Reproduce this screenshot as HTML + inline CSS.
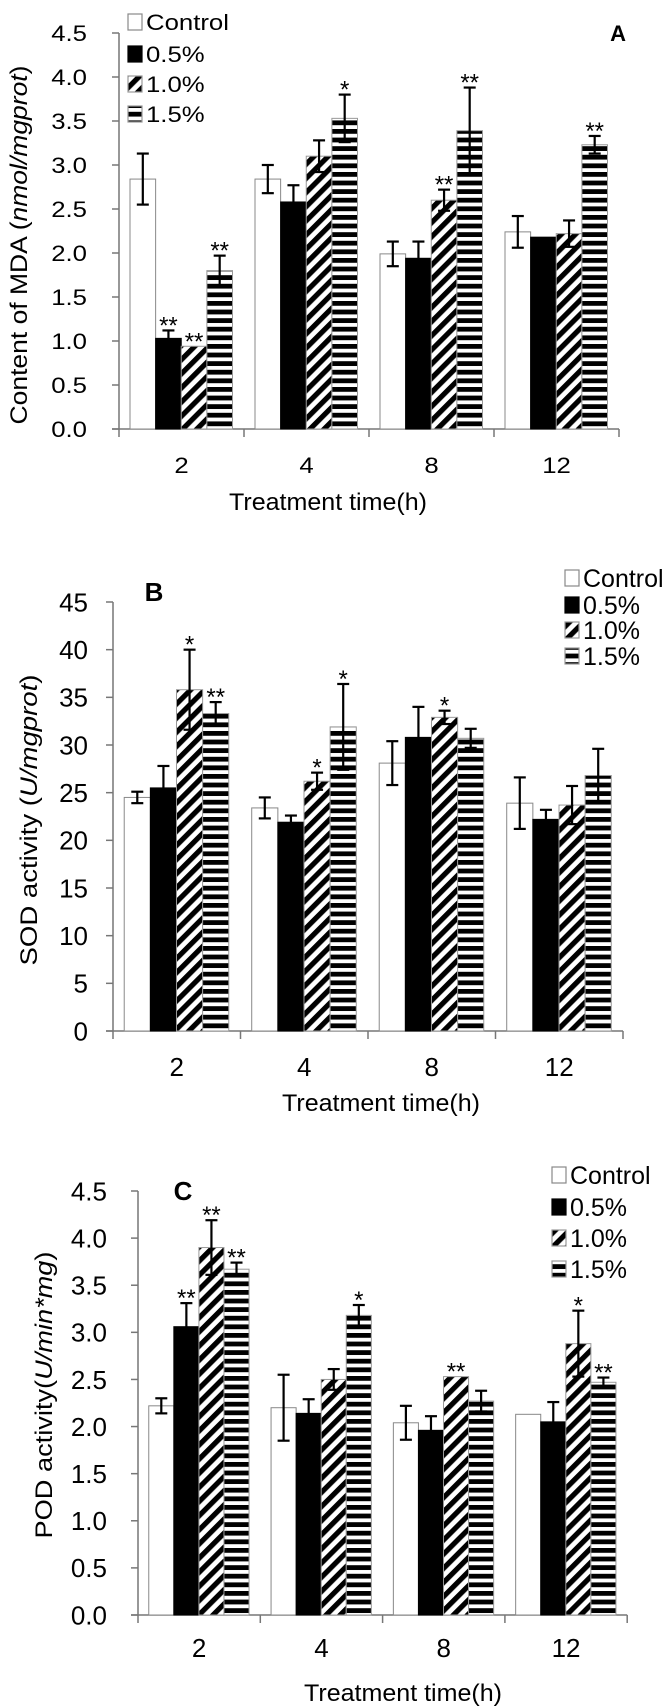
<!DOCTYPE html>
<html><head><meta charset="utf-8">
<style>
html,body{margin:0;padding:0;background:#fff;}
svg{display:block;font-family:"Liberation Sans",Arial,sans-serif;}
</style></head>
<body>
<svg id="chart" width="665" height="1708" viewBox="0 0 665 1708" xmlns="http://www.w3.org/2000/svg">
<defs>
<pattern id="diag" patternUnits="userSpaceOnUse" width="10" height="10" patternTransform="rotate(45)">
<rect width="10" height="10" fill="#fff"/><rect width="5.2" height="10" fill="#000"/>
</pattern>
<pattern id="horiz" patternUnits="userSpaceOnUse" width="8" height="8.6">
<rect width="8" height="8.6" fill="#fff"/><rect width="8" height="4.8" fill="#000"/>
</pattern>
</defs>
</svg>
<script>
// ---- shared ----
const categories = ["2","4","8","12"];
const seriesNames = ["Control","0.5%","1.0%","1.5%"];

// ---- Panel A: MDA ----
const mdaControl = [2.84, 2.84, 1.99, 2.24];
const mdaP05 = [1.03, 2.58, 1.94, 2.18];
const mdaP10 = [0.94, 3.10, 2.60, 2.22];
const mdaP15 = [1.80, 3.53, 3.39, 3.23];
const mdaErrControl = [0.29, 0.16, 0.14, 0.18];
const mdaErrP05 = [0.09, 0.19, 0.19, 0.0];
const mdaErrP10 = [0.0, 0.18, 0.12, 0.15];
const mdaErrP15 = [0.17, 0.27, 0.49, 0.10];
const mdaStarsControl = ["","","",""];
const mdaStarsP05 = ["**","","",""];
const mdaStarsP10 = ["**","","**",""];
const mdaStarsP15 = ["**","*","**","**"];
const mdaTicks = ["0.0","0.5","1.0","1.5","2.0","2.5","3.0","3.5","4.0","4.5"];

// ---- Panel B: SOD ----
const sodControl = [24.5, 23.4, 28.1, 23.9];
const sodP05 = [25.5, 21.9, 30.8, 22.2];
const sodP10 = [35.8, 26.2, 32.9, 23.7];
const sodP15 = [33.3, 31.9, 30.7, 26.8];
const sodErrControl = [0.6, 1.1, 2.3, 2.7];
const sodErrP05 = [2.3, 0.7, 3.2, 1.0];
const sodErrP10 = [4.2, 0.9, 0.7, 2.0];
const sodErrP15 = [1.2, 4.5, 1.0, 2.8];
const sodStarsControl = ["","","",""];
const sodStarsP05 = ["","","",""];
const sodStarsP10 = ["*","*","*",""];
const sodStarsP15 = ["**","*","",""];
const sodTicks = ["0","5","10","15","20","25","30","35","40","45"];

// ---- Panel C: POD ----
const podControl = [2.22, 2.20, 2.04, 2.13];
const podP05 = [3.06, 2.14, 1.96, 2.05];
const podP10 = [3.90, 2.50, 2.53, 2.88];
const podP15 = [3.67, 3.18, 2.27, 2.47];
const podErrControl = [0.08, 0.35, 0.18, 0.0];
const podErrP05 = [0.25, 0.15, 0.15, 0.21];
const podErrP10 = [0.29, 0.11, 0.0, 0.35];
const podErrP15 = [0.07, 0.11, 0.11, 0.05];
const podStarsControl = ["","","",""];
const podStarsP05 = ["**","","",""];
const podStarsP10 = ["**","","**","*"];
const podStarsP15 = ["**","*","","**"];
const podTicks = ["0.0","0.5","1.0","1.5","2.0","2.5","3.0","3.5","4.0","4.5"];

const svg = document.getElementById('chart');
const NS = 'http://www.w3.org/2000/svg';
function el(tag, attrs, parent){
  const e = document.createElementNS(NS, tag);
  for (const k in attrs) e.setAttribute(k, attrs[k]);
  (parent||svg).appendChild(e);
  return e;
}
function txt(parent, x, y, s, size, anchor, sx, weight){
  const t = el('text', {transform:`translate(${x},${y}) scale(${sx},1)`, 'font-size':size, 'text-anchor':anchor, fill:'#000'}, parent);
  if (weight) t.setAttribute('font-weight', weight);
  t.textContent = s;
  return t;
}
const fills = ['#fff','#000','url(#diag)','url(#horiz)'];
const strokes = ['#888','#000','#999','#999'];

function panel(P){
  const g = el('g', {});
  
  
  const yScale = v => P.y0 - (v / P.max) * (P.y0 - P.yTop);
  const xGroup = i => P.axisX + i * P.gw;
  const bw = P.gw * 0.205, off = P.gw * 0.088;
  const ya = el('line', {x1:P.axisX, y1:P.yTop, x2:P.axisX, y2:P.y0, stroke:'#777', 'stroke-width':1.5}, g);
  
  
  P.ticks.forEach((t, i) => {
    const v = i * P.max / (P.ticks.length - 1);
    const y = yScale(v);
    el('line', {x1:P.axisX-7, y1:y, x2:P.axisX, y2:y, stroke:'#777', 'stroke-width':1.5}, g);
    const tl = txt(g, P.labelRight, y + P.fs*0.36, t, P.fs, 'end', P.sx);
    
    
  });
  const xEnd = xGroup(categories.length);
  const xa = el('line', {x1:P.axisX-7, y1:P.y0, x2:xEnd, y2:P.y0, stroke:'#777', 'stroke-width':1.5}, g);
  
  
  for (let i = 0; i <= categories.length; i++) {
    el('line', {x1:xGroup(i), y1:P.y0, x2:xGroup(i), y2:P.y0+8, stroke:'#777', 'stroke-width':1.5}, g);
  }
  categories.forEach((c, i) => {
    const cl = txt(g, xGroup(i) + P.gw/2, P.catY, c, P.fs, 'middle', P.sx);
    
    
  });
  P.series.forEach((vals, s) => {
    vals.forEach((v, i) => {
      const x = xGroup(i) + off + s * bw;
      const y = yScale(v);
      const r = el('rect', {x:x, y:y, width:bw, height:P.y0 - y, fill:fills[s], stroke:strokes[s], 'stroke-width':1}, g);
      
      
      const e = P.errs[s][i];
      const cx = x + bw/2;
      if (e > 0) {
        const yt = yScale(v + e), yb = yScale(Math.max(0, v - e));
        el('line', {x1:cx, y1:yt, x2:cx, y2:yb, stroke:'#000', 'stroke-width':2.2}, g);
        el('line', {x1:cx-6, y1:yt, x2:cx+6, y2:yt, stroke:'#000', 'stroke-width':2.2}, g);
        el('line', {x1:cx-6, y1:yb, x2:cx+6, y2:yb, stroke:'#000', 'stroke-width':2.2}, g);
      }
      const st = P.stars[s][i];
      if (st) {
        const sl = txt(g, cx, yScale(v + e) + 3, st, 24, 'middle', 1);
        
        
      }
    });
  });
  seriesNames.forEach((n, s) => {
    const ly = P.legY[s];
    const sw = el('rect', {x:P.legX, y:ly-8, width:14, height:16, fill:fills[s], stroke:strokes[s], 'stroke-width':1.2}, g);
    
    
    const lt = txt(g, P.legX + 18, ly + P.legFs*0.36, n, P.legFs, 'start', P.sx);
    
    
  });
  const pl = txt(g, P.letterX, P.letterY, P.letter, P.fs, 'middle', 1, 'bold');
  
  
  const xt = el('text', {x:P.xTitleX, y:P.xTitleY, 'font-size':24, 'text-anchor':'middle', textLength:198, lengthAdjust:'spacingAndGlyphs'}, g);
  xt.textContent = 'Treatment time(h)';
  
  
  const yt = el('text', {transform:`translate(${P.yTitleX},${P.yTitleY}) rotate(-90)`, 'font-size':24, 'text-anchor':'middle', textLength:P.yTitleLen, lengthAdjust:'spacingAndGlyphs'}, g);
  P.yTitle.forEach(part => {
    const ts = el('tspan', {}, yt);
    if (part[1]) ts.setAttribute('font-style', 'italic');
    ts.textContent = part[0];
  });
  
  
}

panel({name:'mda-chart', axisX:119, gw:125, y0:429, yTop:33, max:4.5, ticks:mdaTicks, labelRight:87, fs:22, sx:1.17,
  catY:473, series:[mdaControl,mdaP05,mdaP10,mdaP15], errs:[mdaErrControl,mdaErrP05,mdaErrP10,mdaErrP15],
  stars:[mdaStarsControl,mdaStarsP05,mdaStarsP10,mdaStarsP15], legX:128, legY:[22,54,84,114], legFs:22,
  letter:'A', letterX:618, letterY:41, xTitleX:328, xTitleY:510, yTitleX:27, yTitleY:245, yTitleLen:359,
  yTitle:[['Content of MDA (',0],['nmol/mgprot',1],[')',0]]});

panel({name:'sod-chart', axisX:113, gw:127.5, y0:1031, yTop:602, max:45, ticks:sodTicks, labelRight:88, fs:26, sx:1,
  catY:1076, series:[sodControl,sodP05,sodP10,sodP15], errs:[sodErrControl,sodErrP05,sodErrP10,sodErrP15],
  stars:[sodStarsControl,sodStarsP05,sodStarsP10,sodStarsP15], legX:565, legY:[578,605,630,656], legFs:25,
  letter:'B', letterX:154, letterY:601, xTitleX:381, xTitleY:1111, yTitleX:37, yTitleY:820, yTitleLen:291,
  yTitle:[['SOD  activity (',0],['U/mgprot',1],[')',0]]});

panel({name:'pod-chart', axisX:138, gw:122.3, y0:1615, yTop:1191, max:4.5, ticks:podTicks, labelRight:107, fs:26, sx:1,
  catY:1657, series:[podControl,podP05,podP10,podP15], errs:[podErrControl,podErrP05,podErrP10,podErrP15],
  stars:[podStarsControl,podStarsP05,podStarsP10,podStarsP15], legX:552, legY:[1175,1207,1238,1269], legFs:25,
  letter:'C', letterX:183, letterY:1200, xTitleX:403, xTitleY:1701, yTitleX:52, yTitleY:1395, yTitleLen:287,
  yTitle:[['POD activity(',0],['U/min*mg',1],[')',0]]});
</script>
</body></html>
